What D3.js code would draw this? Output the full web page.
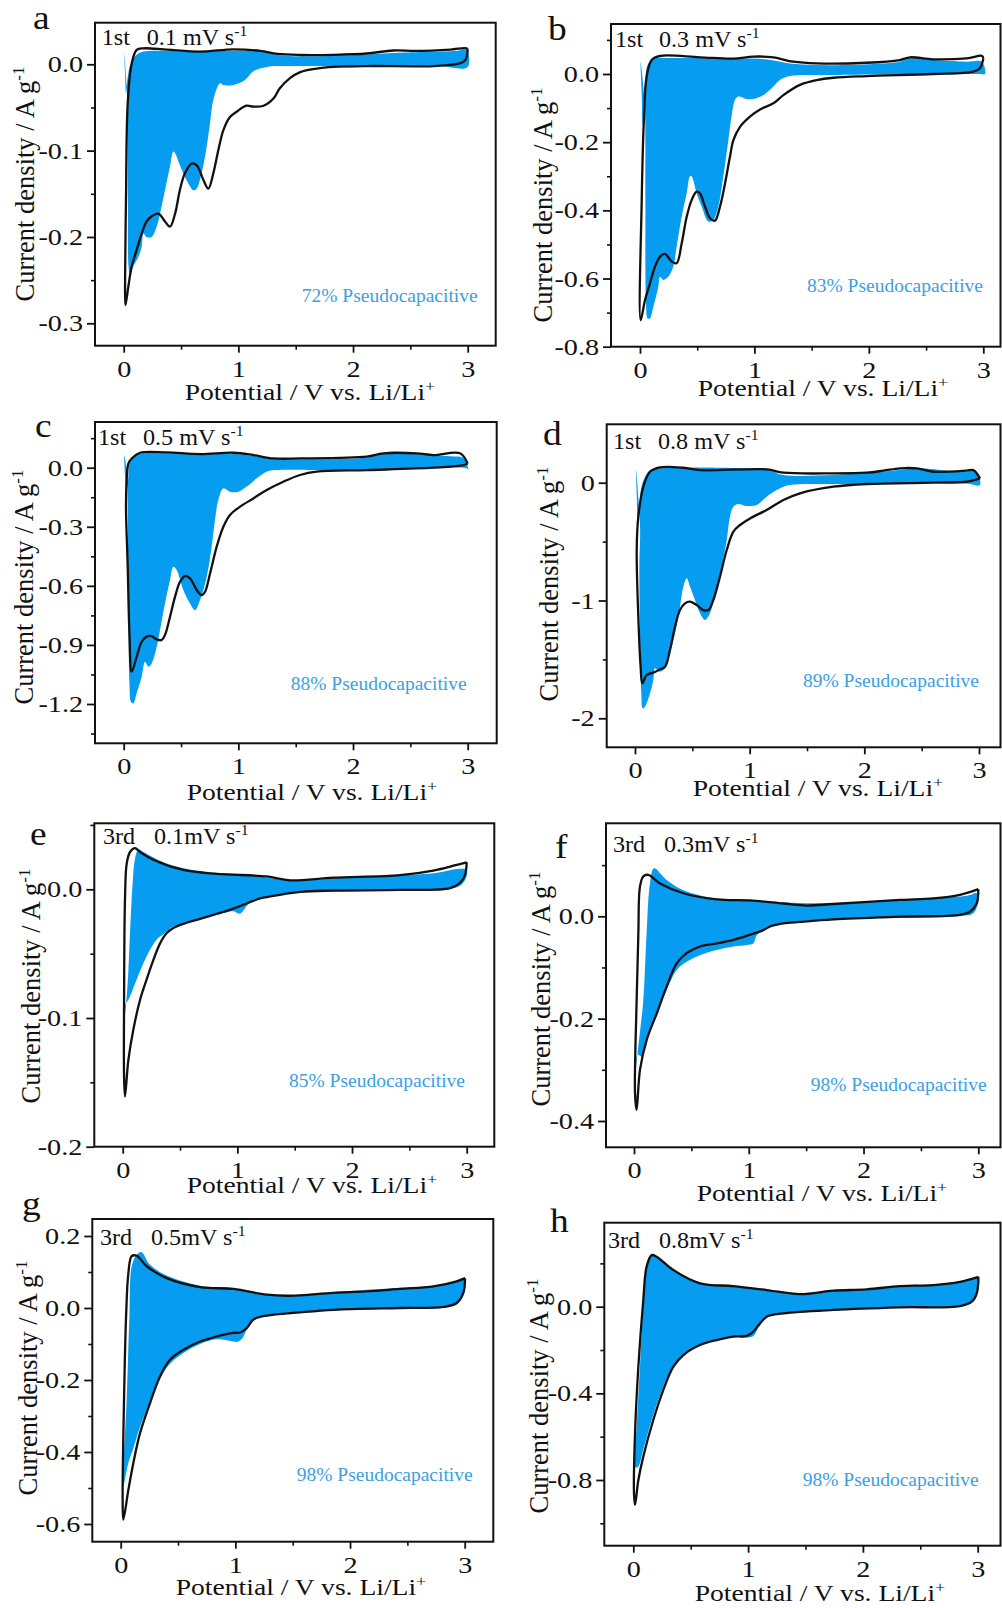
<!DOCTYPE html>
<html>
<head>
<meta charset="utf-8">
<script src="https://cdn.jsdelivr.net/npm/d3@7"></script>
<style>
  body { margin: 0; background: #fff; }
  svg { display: block; }
</style>
</head>
<body>
<svg id="fig" width="1002" height="1608"></svg>
<script>
// ---------- data: cyclic voltammograms [potential V, current density A/g] ----------
// Each cv* traces the full loop (cathodic sweep 3 V -> 0 V, then anodic back to 3 V).
// Each cap* outlines the capacitive (pseudocapacitive) contribution.

const cvA = [[3.0,0.016],[2.98,0.005],[2.93,0.001],[2.70,-0.002],[2.12,-0.002],[1.83,-0.003],[1.68,-0.005],[1.54,-0.009],[1.45,-0.016],[1.36,-0.028],[1.31,-0.039],[1.22,-0.048],[1.13,-0.049],[1.07,-0.048],[0.985,-0.055],[0.927,-0.061],[0.87,-0.076],[0.826,-0.099],[0.782,-0.126],[0.738,-0.144],[0.695,-0.134],[0.637,-0.117],[0.593,-0.115],[0.535,-0.126],[0.491,-0.145],[0.448,-0.173],[0.404,-0.188],[0.36,-0.182],[0.302,-0.173],[0.244,-0.176],[0.20,-0.182],[0.157,-0.196],[0.113,-0.215],[0.07,-0.234],[0.04,-0.258],[0.015,-0.279],[0.012,-0.25],[0.02,-0.157],[0.035,-0.045],[0.07,0.001],[0.113,0.0166],[0.17,0.0185],[0.376,0.017],[0.666,0.0147],[0.96,0.0174],[1.19,0.0155],[1.34,0.012],[1.54,0.0108],[1.83,0.011],[2.12,0.0125],[2.35,0.016],[2.55,0.0155],[2.85,0.017],[2.99,0.0185],[3.0,0.016]];
const capA = [[0.004,0.013],[0.012,-0.012],[0.02,-0.034],[0.03,-0.02],[0.05,-0.004],[0.08,0.006],[0.113,0.011],[0.17,0.0147],[0.5,0.0152],[0.9,0.0155],[1.24,0.0147],[1.34,0.0108],[1.83,0.0097],[2.41,0.0135],[2.9,0.0155],[2.99,0.0166],[3.0,-0.003],[2.7,-0.0015],[1.83,-0.002],[1.45,-0.002],[1.25,-0.003],[1.13,-0.008],[1.06,-0.018],[0.96,-0.024],[0.87,-0.024],[0.84,-0.022],[0.782,-0.041],[0.753,-0.068],[0.724,-0.095],[0.68,-0.126],[0.637,-0.144],[0.608,-0.146],[0.564,-0.138],[0.506,-0.122],[0.448,-0.103],[0.433,-0.101],[0.404,-0.118],[0.36,-0.146],[0.33,-0.165],[0.288,-0.188],[0.244,-0.2],[0.2,-0.2],[0.172,-0.196],[0.157,-0.211],[0.128,-0.223],[0.084,-0.234],[0.055,-0.244],[0.042,-0.234],[0.037,-0.157],[0.034,-0.08],[0.03,-0.035]];

const cvB = [[3.0,0.045],[2.97,0.017],[2.913,0.007],[2.563,0.0],[1.98,-0.006],[1.69,-0.011],[1.544,-0.018],[1.398,-0.032],[1.253,-0.062],[1.165,-0.086],[1.049,-0.104],[0.961,-0.125],[0.874,-0.155],[0.816,-0.194],[0.786,-0.243],[0.743,-0.321],[0.699,-0.389],[0.655,-0.43],[0.612,-0.423],[0.568,-0.389],[0.524,-0.35],[0.495,-0.345],[0.451,-0.37],[0.408,-0.419],[0.364,-0.497],[0.32,-0.555],[0.277,-0.55],[0.218,-0.528],[0.175,-0.536],[0.131,-0.565],[0.087,-0.614],[0.044,-0.663],[0.006,-0.722],[0.015,-0.37],[0.035,-0.125],[0.058,-0.008],[0.102,0.041],[0.175,0.053],[0.524,0.049],[0.816,0.045],[0.99,0.051],[1.165,0.049],[1.34,0.036],[1.544,0.031],[1.98,0.033],[2.27,0.041],[2.36,0.049],[2.56,0.043],[2.855,0.046],[2.99,0.053],[3.0,0.045]];
const capB = [[0.005,0.036],[0.015,-0.06],[0.022,-0.15],[0.03,-0.1],[0.045,-0.02],[0.065,0.025],[0.117,0.046],[0.233,0.047],[0.7,0.046],[1.1,0.043],[1.31,0.031],[1.69,0.026],[2.27,0.036],[2.36,0.046],[2.6,0.04],[2.855,0.036],[2.986,0.036],[3.015,0.0],[2.97,0.0],[2.563,0.0],[1.69,-0.003],[1.31,-0.006],[1.22,-0.018],[1.165,-0.037],[1.078,-0.062],[0.99,-0.073],[0.932,-0.073],[0.859,-0.066],[0.83,-0.076],[0.8,-0.125],[0.772,-0.194],[0.728,-0.3],[0.684,-0.389],[0.641,-0.428],[0.597,-0.433],[0.539,-0.389],[0.495,-0.35],[0.451,-0.3],[0.437,-0.3],[0.408,-0.35],[0.364,-0.419],[0.32,-0.507],[0.291,-0.565],[0.247,-0.595],[0.204,-0.604],[0.175,-0.595],[0.16,-0.624],[0.117,-0.683],[0.087,-0.717],[0.067,-0.717],[0.052,-0.663],[0.047,-0.37],[0.044,-0.12],[0.03,-0.04]];

const cvC = [[3.0,0.02],[2.95,0.012],[2.70,0.0],[2.12,-0.012],[1.683,-0.02],[1.538,-0.037],[1.392,-0.071],[1.247,-0.113],[1.131,-0.156],[1.015,-0.198],[0.927,-0.24],[0.869,-0.3],[0.811,-0.401],[0.753,-0.537],[0.709,-0.63],[0.68,-0.647],[0.637,-0.621],[0.578,-0.562],[0.535,-0.55],[0.491,-0.579],[0.448,-0.655],[0.404,-0.757],[0.36,-0.85],[0.331,-0.875],[0.288,-0.872],[0.244,-0.855],[0.2,-0.858],[0.157,-0.884],[0.113,-0.96],[0.07,-1.036],[0.05,-0.84],[0.035,-0.503],[0.02,-0.198],[0.025,-0.08],[0.04,0.02],[0.07,0.047],[0.142,0.076],[0.375,0.078],[0.666,0.069],[0.956,0.076],[1.131,0.064],[1.305,0.047],[1.538,0.047],[2.12,0.056],[2.265,0.073],[2.555,0.073],[2.70,0.064],[2.933,0.073],[3.0,0.02]];
const capC = [[0.005,0.064],[0.012,-0.05],[0.02,-0.147],[0.03,-0.1],[0.04,-0.05],[0.05,0.02],[0.085,0.056],[0.142,0.071],[0.4,0.073],[0.9,0.072],[1.131,0.06],[1.305,0.044],[1.538,0.043],[2.12,0.052],[2.32,0.08],[2.555,0.07],[2.846,0.058],[2.96,0.05],[3.006,-0.012],[2.99,-0.003],[2.70,-0.003],[1.83,-0.012],[1.334,-0.012],[1.247,-0.02],[1.16,-0.054],[1.073,-0.096],[1.0,-0.122],[0.927,-0.122],[0.869,-0.105],[0.825,-0.164],[0.796,-0.266],[0.767,-0.401],[0.724,-0.554],[0.666,-0.672],[0.622,-0.723],[0.578,-0.689],[0.52,-0.621],[0.462,-0.52],[0.433,-0.503],[0.404,-0.57],[0.36,-0.689],[0.317,-0.824],[0.288,-0.909],[0.244,-0.994],[0.215,-1.01],[0.186,-0.985],[0.157,-1.061],[0.113,-1.146],[0.084,-1.197],[0.064,-1.19],[0.05,-1.095],[0.044,-0.909],[0.038,-0.5],[0.035,-0.164],[0.03,-0.04]];

const cvD = [[3.009,0.037],[2.95,0.02],[2.892,0.008],[2.60,0.0],[2.02,-0.011],[1.73,-0.034],[1.439,-0.09],[1.294,-0.147],[1.148,-0.232],[1.003,-0.303],[0.916,-0.359],[0.858,-0.416],[0.8,-0.571],[0.741,-0.798],[0.683,-0.996],[0.64,-1.081],[0.596,-1.081],[0.538,-1.038],[0.48,-1.01],[0.436,-1.024],[0.392,-1.081],[0.349,-1.222],[0.305,-1.42],[0.262,-1.562],[0.218,-1.584],[0.16,-1.612],[0.102,-1.632],[0.064,-1.703],[0.049,-1.56],[0.029,-1.137],[0.015,-0.571],[0.029,-0.289],[0.073,-0.034],[0.131,0.093],[0.218,0.13],[0.422,0.127],[0.567,0.107],[1.148,0.113],[1.294,0.085],[1.73,0.079],[2.02,0.085],[2.166,0.102],[2.311,0.122],[2.456,0.122],[2.602,0.093],[2.892,0.102],[2.95,0.107],[3.009,0.037]];
const capD = [[0.009,0.107],[0.015,-0.1],[0.025,-0.373],[0.04,-0.2],[0.06,-0.02],[0.131,0.107],[0.218,0.122],[1.148,0.107],[1.294,0.065],[1.73,0.065],[2.311,0.107],[2.456,0.122],[2.892,0.093],[2.965,0.107],[3.009,-0.02],[2.892,-0.006],[1.73,-0.011],[1.352,-0.02],[1.265,-0.048],[1.148,-0.119],[1.061,-0.19],[0.974,-0.198],[0.9,-0.181],[0.858,-0.204],[0.828,-0.289],[0.8,-0.487],[0.756,-0.713],[0.698,-0.939],[0.654,-1.109],[0.61,-1.165],[0.567,-1.109],[0.523,-0.996],[0.48,-0.883],[0.451,-0.812],[0.422,-0.883],[0.392,-1.052],[0.349,-1.279],[0.305,-1.448],[0.262,-1.576],[0.218,-1.604],[0.174,-1.575],[0.16,-1.675],[0.131,-1.788],[0.087,-1.901],[0.067,-1.915],[0.055,-1.788],[0.044,-1.279],[0.038,-0.713],[0.044,-0.373]];

const cvE = [[3.0,0.021],[2.985,0.011],[2.942,0.005],[2.855,0.001],[2.419,-0.0005],[1.837,-0.001],[1.547,-0.002],[1.256,-0.006],[1.198,-0.007],[1.081,-0.011],[0.965,-0.015],[0.82,-0.019],[0.674,-0.023],[0.558,-0.026],[0.442,-0.03],[0.384,-0.034],[0.326,-0.042],[0.267,-0.055],[0.209,-0.07],[0.151,-0.086],[0.093,-0.109],[0.049,-0.133],[0.02,-0.161],[0.012,-0.146],[0.012,-0.086],[0.02,-0.008],[0.035,0.02],[0.064,0.029],[0.108,0.032],[0.151,0.029],[0.267,0.023],[0.529,0.015],[0.82,0.012],[1.256,0.01],[1.459,0.007],[1.837,0.009],[2.419,0.011],[2.709,0.0145],[2.913,0.019],[3.0,0.021]];
const capE = [[0.012,-0.102],[0.041,-0.076],[0.064,-0.034],[0.087,0.005],[0.108,0.024],[0.137,0.031],[0.18,0.029],[0.384,0.02],[0.674,0.014],[1.1,0.011],[1.459,0.007],[1.837,0.009],[2.709,0.0125],[2.942,0.016],[3.0,0.015],[2.985,0.007],[2.913,0.0015],[2.419,-0.001],[1.547,-0.0025],[1.256,-0.006],[1.14,-0.008],[1.081,-0.013],[1.023,-0.019],[0.965,-0.017],[0.82,-0.02],[0.674,-0.023],[0.442,-0.029],[0.355,-0.035],[0.297,-0.039],[0.209,-0.052],[0.122,-0.07],[0.049,-0.086],[0.012,-0.091],[0.006,-0.103]];

const cvF = [[3.0,0.053],[2.986,0.025],[2.928,0.009],[2.84,0.003],[2.318,-0.0007],[1.737,-0.006],[1.446,-0.011],[1.301,-0.014],[1.185,-0.02],[1.127,-0.027],[1.01,-0.036],[0.866,-0.046],[0.72,-0.053],[0.575,-0.059],[0.459,-0.072],[0.372,-0.092],[0.285,-0.137],[0.198,-0.19],[0.11,-0.242],[0.052,-0.3],[0.023,-0.378],[0.009,-0.346],[0.023,-0.164],[0.038,-0.033],[0.052,0.058],[0.081,0.078],[0.125,0.081],[0.227,0.064],[0.43,0.045],[0.72,0.033],[1.01,0.031],[1.301,0.025],[1.505,0.021],[1.737,0.024],[2.318,0.032],[2.608,0.035],[2.84,0.042],[3.0,0.053]];
const capF = [[0.029,-0.271],[0.055,-0.22],[0.081,-0.164],[0.11,-0.033],[0.139,0.064],[0.174,0.094],[0.285,0.071],[0.43,0.051],[0.72,0.035],[1.01,0.032],[1.301,0.027],[1.737,0.026],[2.318,0.033],[2.9,0.04],[2.986,0.045],[3.0,0.032],[2.957,0.006],[2.84,0.0007],[1.737,-0.006],[1.301,-0.014],[1.156,-0.024],[1.07,-0.037],[1.04,-0.053],[0.982,-0.056],[0.866,-0.059],[0.72,-0.066],[0.575,-0.076],[0.459,-0.089],[0.372,-0.105],[0.285,-0.144],[0.198,-0.19],[0.11,-0.242],[0.067,-0.274],[0.03,-0.27],[0.02,-0.36],[0.017,-0.3]];

const cvG = [[3.003,0.083],[2.988,0.042],[2.93,0.014],[2.814,0.003],[2.436,0.0],[1.855,-0.005],[1.564,-0.012],[1.273,-0.021],[1.157,-0.032],[1.099,-0.056],[1.041,-0.068],[0.983,-0.069],[0.837,-0.079],[0.692,-0.093],[0.547,-0.116],[0.43,-0.144],[0.343,-0.19],[0.256,-0.264],[0.169,-0.347],[0.11,-0.431],[0.067,-0.505],[0.023,-0.588],[0.017,-0.532],[0.029,-0.255],[0.047,-0.023],[0.067,0.097],[0.096,0.144],[0.14,0.145],[0.227,0.116],[0.401,0.083],[0.692,0.058],[0.983,0.053],[1.273,0.037],[1.477,0.034],[1.855,0.042],[2.145,0.046],[2.436,0.053],[2.727,0.06],[2.93,0.074],[3.003,0.083]];
const capG = [[0.023,-0.458],[0.052,-0.255],[0.076,-0.023],[0.096,0.116],[0.14,0.148],[0.183,0.155],[0.25,0.122],[0.401,0.09],[0.692,0.062],[0.983,0.055],[1.273,0.038],[1.477,0.036],[1.855,0.044],[2.436,0.056],[2.727,0.062],[2.93,0.075],[3.003,0.08],[2.988,0.035],[2.93,0.01],[2.814,0.001],[2.436,-0.002],[1.855,-0.007],[1.273,-0.023],[1.157,-0.035],[1.1,-0.06],[1.06,-0.085],[1.02,-0.094],[0.983,-0.093],[0.837,-0.087],[0.692,-0.1],[0.547,-0.125],[0.43,-0.155],[0.343,-0.195],[0.256,-0.26],[0.169,-0.33],[0.11,-0.39],[0.067,-0.43],[0.04,-0.47],[0.025,-0.495]];

const cvH = [[3.006,0.138],[2.992,0.062],[2.948,0.023],[2.846,0.003],[2.324,-0.003],[1.743,-0.015],[1.307,-0.031],[1.162,-0.046],[1.104,-0.077],[1.046,-0.115],[0.988,-0.135],[0.871,-0.138],[0.726,-0.154],[0.581,-0.177],[0.436,-0.223],[0.349,-0.277],[0.261,-0.385],[0.174,-0.523],[0.087,-0.692],[0.044,-0.8],[0.015,-0.915],[0.006,-0.862],[0.015,-0.585],[0.044,-0.277],[0.087,0.031],[0.116,0.185],[0.16,0.238],[0.203,0.231],[0.349,0.169],[0.581,0.108],[0.871,0.095],[1.162,0.077],[1.452,0.058],[1.743,0.074],[2.033,0.08],[2.324,0.095],[2.614,0.1],[2.846,0.115],[3.006,0.138]];
const capH = [[0.015,-0.74],[0.03,-0.55],[0.058,-0.277],[0.087,0.0],[0.116,0.18],[0.16,0.238],[0.203,0.233],[0.349,0.172],[0.581,0.11],[0.871,0.097],[1.162,0.079],[1.452,0.06],[1.743,0.076],[2.033,0.082],[2.324,0.098],[2.614,0.102],[2.846,0.118],[3.006,0.13],[2.992,0.055],[2.948,0.018],[2.846,0.0],[2.324,-0.005],[1.743,-0.017],[1.307,-0.033],[1.162,-0.048],[1.104,-0.08],[1.046,-0.135],[0.988,-0.142],[0.871,-0.14],[0.726,-0.156],[0.581,-0.178],[0.436,-0.222],[0.349,-0.27],[0.261,-0.37],[0.174,-0.5],[0.087,-0.66],[0.04,-0.74]];

// ---------- labels and ticks ----------
const panelLetters = ["a", "b", "c", "d", "e", "f", "g", "h"];
const cycleLabels = ["1st", "1st", "1st", "1st", "3rd", "3rd", "3rd", "3rd"];
const scanRates = ["0.1 mV s", "0.3 mV s", "0.5 mV s", "0.8 mV s", "0.1mV s", "0.3mV s", "0.5mV s", "0.8mV s"];
const pseudoShare = [72, 83, 88, 89, 85, 98, 98, 98];

const xTicks = [0, 1, 2, 3];
const xTickLabels = ["0", "1", "2", "3"];
const xMinorTicks = [0.5, 1.5, 2.5];

const yTicksA = [-0.3, -0.2, -0.1, 0.0], yLabelsA = ["-0.3", "-0.2", "-0.1", "0.0"], yMinorA = [-0.25, -0.15, -0.05];
const yTicksB = [-0.8, -0.6, -0.4, -0.2, 0.0], yLabelsB = ["-0.8", "-0.6", "-0.4", "-0.2", "0.0"], yMinorB = [-0.7, -0.5, -0.3, -0.1, 0.1];
const yTicksC = [-1.2, -0.9, -0.6, -0.3, 0.0], yLabelsC = ["-1.2", "-0.9", "-0.6", "-0.3", "0.0"], yMinorC = [-1.35, -1.05, -0.75, -0.45, -0.15, 0.15];
const yTicksD = [-2, -1, 0], yLabelsD = ["-2", "-1", "0"], yMinorD = [-1.5, -0.5];
const yTicksE = [-0.2, -0.1, 0.0], yLabelsE = ["-0.2", "-0.1", "0.0"], yMinorE = [-0.15, -0.05, 0.05];
const yTicksF = [-0.4, -0.2, 0.0], yLabelsF = ["-0.4", "-0.2", "0.0"], yMinorF = [-0.3, -0.1, 0.1];
const yTicksG = [-0.6, -0.4, -0.2, 0.0, 0.2], yLabelsG = ["-0.6", "-0.4", "-0.2", "0.0", "0.2"], yMinorG = [-0.5, -0.3, -0.1, 0.1];
const yTicksH = [-0.8, -0.4, 0.0], yLabelsH = ["-0.8", "-0.4", "0.0"], yMinorH = [-1.0, -0.6, -0.2, 0.2];

const series = [
  { cv: cvA, cap: capA, ticks: yTicksA, labels: yLabelsA, minor: yMinorA },
  { cv: cvB, cap: capB, ticks: yTicksB, labels: yLabelsB, minor: yMinorB },
  { cv: cvC, cap: capC, ticks: yTicksC, labels: yLabelsC, minor: yMinorC },
  { cv: cvD, cap: capD, ticks: yTicksD, labels: yLabelsD, minor: yMinorD },
  { cv: cvE, cap: capE, ticks: yTicksE, labels: yLabelsE, minor: yMinorE },
  { cv: cvF, cap: capF, ticks: yTicksF, labels: yLabelsF, minor: yMinorF },
  { cv: cvG, cap: capG, ticks: yTicksG, labels: yLabelsG, minor: yMinorG },
  { cv: cvH, cap: capH, ticks: yTicksH, labels: yLabelsH, minor: yMinorH }
];

// ---------- layout (pixels) ----------
// frame: [left, top, right, bottom]; xPx: pixel of 0 V and 3 V; yCal: two [value, pixel] pairs
const layout = [
  { frame: [95, 22.7, 495.7, 345.7],     xPx: [123.7, 467.7], yCal: [[0, 64.3], [-0.3, 323.3]],  letter: [33, 29],   cyc: [101.7, 45],  rate: 146.7, pseudo: [301.7, 301.7], yTitle: [34, 184],   xTitle: [310, 400] },
  { frame: [611, 24, 1000.5, 346.7],     xPx: [640, 983.3],   yCal: [[0, 74], [-0.8, 346.7]],    letter: [548, 40],  cyc: [615, 46.7],  rate: 659,   pseudo: [807, 292],     yTitle: [552, 205],  xTitle: [823, 396] },
  { frame: [95, 422, 496.7, 743.3],      xPx: [123.7, 467.7], yCal: [[0, 467.7], [-1.2, 704]],   letter: [35, 437],  cyc: [98, 445],    rate: 143,   pseudo: [290.7, 690],   yTitle: [33, 587],   xTitle: [312, 800] },
  { frame: [606.7, 424.3, 1000.5, 747.3], xPx: [635, 979],    yCal: [[0, 482.7], [-2, 718.3]],   letter: [543, 445], cyc: [613, 449],   rate: 658,   pseudo: [803, 686.7],   yTitle: [558, 584],  xTitle: [818, 796] },
  { frame: [94.3, 823.3, 494.3, 1146.7], xPx: [122.7, 466.7], yCal: [[0, 889.3], [-0.2, 1146.7]], letter: [30, 845],  cyc: [103, 844],   rate: 154,   pseudo: [289, 1087],    yTitle: [40, 986],   xTitle: [312, 1193] },
  { frame: [606, 823.3, 1000.5, 1147.3], xPx: [634, 978.3],   yCal: [[0, 916.3], [-0.4, 1121]],  letter: [555, 858], cyc: [613, 852],   rate: 664,   pseudo: [810.7, 1091],  yTitle: [550, 989],  xTitle: [822, 1201] },
  { frame: [92.3, 1219, 493.3, 1541.7],  xPx: [120.7, 464.7], yCal: [[0.2, 1236], [-0.6, 1524]], letter: [22, 1215], cyc: [100, 1245],  rate: 151,   pseudo: [296.7, 1480.7], yTitle: [37, 1378], xTitle: [301, 1595] },
  { frame: [604.3, 1222.7, 1000.5, 1545.7], xPx: [633.3, 977.7], yCal: [[0, 1306.7], [-0.8, 1480]], letter: [550, 1232], cyc: [608, 1248], rate: 659, pseudo: [802.7, 1485.7], yTitle: [548, 1396], xTitle: [820, 1601] }
];

// ---------- style ----------
const FONT = '"Liberation Serif", "Times New Roman", Times, serif';
const INK = "#111";
const CAP_FILL = "#069df0";
const CAP_TEXT = "#3aa0e2";
const TICK_SX = 1.2;    // horizontal stretch of tick numerals and axis titles
const TICK_FS = 23.5;

const svg = d3.select("#fig");

layout.forEach((L, i) => {
  const S = series[i];
  const [l, t, r, b] = L.frame;
  const g = svg.append("g");

  const x = d3.scaleLinear().domain([0, 3]).range(L.xPx);
  const y = d3.scaleLinear().domain([L.yCal[0][0], L.yCal[1][0]]).range([L.yCal[0][1], L.yCal[1][1]]);

  // capacitive contribution (filled region)
  g.append("path")
    .datum(S.cap)
    .attr("d", d3.line().x(d => x(d[0])).y(d => y(d[1])).curve(d3.curveCatmullRomClosed.alpha(0.5)))
    .attr("fill", CAP_FILL)
    .attr("stroke", "none");

  // measured CV loop
  g.append("path")
    .datum(S.cv)
    .attr("d", d3.line().x(d => x(d[0])).y(d => y(d[1])).curve(d3.curveCatmullRom.alpha(0.5)))
    .attr("fill", "none")
    .attr("stroke", INK)
    .attr("stroke-width", 2.3)
    .attr("stroke-linejoin", "round");

  // frame
  g.append("rect")
    .attr("x", l).attr("y", t)
    .attr("width", r - l).attr("height", b - t)
    .attr("fill", "none").attr("stroke", INK).attr("stroke-width", 2);

  // y axis: major + minor ticks, outward
  const ya = g.append("g").attr("transform", `translate(${l},0)`)
    .call(d3.axisLeft(y).tickValues(S.ticks).tickSize(8).tickPadding(4)
      .tickFormat((d, k) => S.labels[k]));
  ya.select(".domain").remove();
  ya.selectAll("line").attr("stroke", INK).attr("stroke-width", 1.8);
  ya.selectAll("text")
    .attr("font-family", FONT).attr("font-size", TICK_FS).attr("fill", INK)
    .attr("x", -12 / TICK_SX).attr("transform", `scale(${TICK_SX},1)`);

  const ym = g.append("g").attr("transform", `translate(${l},0)`)
    .call(d3.axisLeft(y).tickValues(S.minor).tickSize(4).tickFormat(() => ""));
  ym.select(".domain").remove();
  ym.selectAll("line").attr("stroke", INK).attr("stroke-width", 1.6);

  // x axis
  const xa = g.append("g").attr("transform", `translate(0,${b})`)
    .call(d3.axisBottom(x).tickValues(xTicks).tickSize(7).tickPadding(8)
      .tickFormat((d, k) => xTickLabels[k]));
  xa.select(".domain").remove();
  xa.selectAll("line").attr("stroke", INK).attr("stroke-width", 1.8);
  xa.selectAll("text")
    .attr("font-family", FONT).attr("font-size", TICK_FS).attr("fill", INK)
    .attr("y", 31).attr("dy", 0).attr("transform", `scale(${TICK_SX},1)`);

  const xm = g.append("g").attr("transform", `translate(0,${b})`)
    .call(d3.axisBottom(x).tickValues(xMinorTicks).tickSize(4).tickFormat(() => ""));
  xm.select(".domain").remove();
  xm.selectAll("line").attr("stroke", INK).attr("stroke-width", 1.6);

  // x title
  const xt = g.append("text")
    .attr("transform", `translate(${L.xTitle[0]},${L.xTitle[1]}) scale(${TICK_SX},1)`)
    .attr("text-anchor", "middle")
    .attr("font-family", FONT).attr("font-size", 23).attr("fill", INK);
  xt.append("tspan").text("Potential / V vs. Li/Li");
  xt.append("tspan").attr("dy", -9).attr("font-size", 15).text("+");

  // y title
  const yt = g.append("text")
    .attr("transform", `translate(${L.yTitle[0]},${L.yTitle[1]}) rotate(-90)`)
    .attr("text-anchor", "middle")
    .attr("font-family", FONT).attr("font-size", 26.5).attr("fill", INK);
  yt.append("tspan").text("Current density / A g");
  yt.append("tspan").attr("dy", -10).attr("font-size", 17).text("-1");

  // panel letter
  g.append("text")
    .attr("transform", `translate(${L.letter[0]},${L.letter[1]}) scale(1.1,1)`)
    .attr("font-family", FONT).attr("font-size", 34).attr("fill", INK)
    .text(panelLetters[i]);

  // cycle and scan-rate annotation
  g.append("text")
    .attr("transform", `translate(${L.cyc[0]},${L.cyc[1]}) scale(1.05,1)`)
    .attr("font-family", FONT).attr("font-size", 23).attr("fill", INK)
    .text(cycleLabels[i]);
  const rt = g.append("text")
    .attr("transform", `translate(${L.rate},${L.cyc[1]}) scale(1.05,1)`)
    .attr("font-family", FONT).attr("font-size", 23).attr("fill", INK);
  rt.append("tspan").text(scanRates[i]);
  rt.append("tspan").attr("dy", -9).attr("font-size", 15).text("-1");

  // capacitive share
  g.append("text")
    .attr("x", L.pseudo[0]).attr("y", L.pseudo[1])
    .attr("font-family", FONT).attr("font-size", 19.5).attr("fill", CAP_TEXT)
    .text(`${pseudoShare[i]}% Pseudocapacitive`);
});
</script>
</body>
</html>
